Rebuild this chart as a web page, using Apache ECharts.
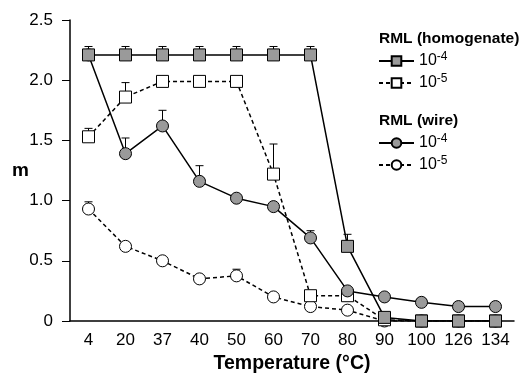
<!DOCTYPE html>
<html>
<head>
<meta charset="utf-8">
<script src="https://cdn.jsdelivr.net/npm/echarts@6/dist/echarts.min.js"></script>
<style>
  html, body { margin: 0; padding: 0; background: #fff; }
  #chart { width: 522px; height: 375px; }
</style>
</head>
<body>
<div id="chart"></div>
<script>
// temperatures (°C) on the x axis
const temps = ['4', '20', '37', '40', '50', '60', '70', '80', '90', '100', '126', '134'];

// RML (homogenate)
const homog4 = [2.21, 2.21, 2.21, 2.21, 2.21, 2.21, 2.21, 0.62, 0.03, 0, 0, 0];
const homog4Err = [2.28, 2.28, 2.28, 2.28, 2.28, 2.28, 2.28, 0.72, null, null, null, null];
const homog5 = [1.53, 1.86, 1.99, 1.99, 1.99, 1.22, 0.21, 0.21, 0.01, 0, 0, 0];
const homog5Err = [1.60, 1.98, 2.03, null, null, 1.47, null, null, null, null, null, null];

// RML (wire)
const wire4 = [2.21, 1.39, 1.62, 1.16, 1.02, 0.95, 0.69, 0.25, 0.20, 0.155, 0.12, 0.12];
const wire4Err = [null, 1.52, 1.75, 1.29, null, null, 0.75, null, null, null, null, null];
const wire5 = [0.93, 0.62, 0.50, 0.35, 0.375, 0.20, 0.12, 0.09, 0.0, 0, 0, 0];
const wire5Err = [0.99, null, null, null, 0.43, null, null, null, null, null, null, null];

const yTicks = [0, 0.5, 1.0, 1.5, 2.0, 2.5];

const FONT = 'Liberation Sans, Arial, sans-serif';
const GRAY = '#9a9a9a';

const chart = echarts.init(document.getElementById('chart'));

// upper error bar with a small cap
function errSeries(name, vals, tops) {
  const data = [];
  vals.forEach((v, i) => {
    if (tops[i] != null) data.push([i, v, tops[i]]);
  });
  return {
    name: name + '-err',
    type: 'custom',
    z: 1,
    silent: true,
    data: data,
    renderItem: function (params, api) {
      const p = api.coord([api.value(0), api.value(1)]);
      const t = api.coord([api.value(0), api.value(2)]);
      const st = { stroke: '#000', lineWidth: 1 };
      return {
        type: 'group',
        children: [
          { type: 'line', shape: { x1: p[0], y1: p[1], x2: t[0], y2: t[1] }, style: st },
          { type: 'line', shape: { x1: t[0] - 4, y1: t[1], x2: t[0] + 4, y2: t[1] }, style: st }
        ]
      };
    }
  };
}

function lineSeries(name, vals, symbol, fill, dashed) {
  return {
    name: name,
    type: 'line',
    z: 3,
    data: vals,
    symbol: symbol,
    symbolSize: 12,
    showAllSymbol: true,
    lineStyle: { color: '#000', width: 1.5, type: dashed ? [4, 3] : 'solid' },
    itemStyle: { color: fill, borderColor: '#000', borderWidth: 1, opacity: 1 },
    emphasis: { disabled: true }
  };
}

const legendText = {
  fontFamily: FONT,
  fontSize: 16,
  color: '#000',
  rich: {
    b: { fontFamily: FONT, fontSize: 16, color: '#000' },
    sup: { fontFamily: FONT, fontSize: 12, color: '#000', verticalAlign: 'top', padding: [0, 0, 8, 0] }
  }
};
const legendFmt = name => name.endsWith('4') ? '{b|10}{sup|-4}' : '{b|10}{sup|-5}';

function legendBox(names, top) {
  return {
    data: names,
    orient: 'vertical',
    left: 378,
    top: top,
    padding: 0,
    itemWidth: 35,
    itemHeight: 12,
    itemGap: 4,
    formatter: legendFmt,
    textStyle: legendText,
    selectedMode: false
  };
}

const option = {
  animation: false,
  backgroundColor: '#fff',
  textStyle: { fontFamily: FONT },
  grid: { left: 70, right: 8, top: 20, bottom: 54, outerBoundsMode: 'none' },
  legend: [
    legendBox(['homog4', 'homog5'], 51),
    legendBox(['wire4', 'wire5'], 133)
  ],
  graphic: [
    { type: 'text', left: 379, top: 31, style: { text: 'RML (homogenate)', font: 'bold 15.5px ' + FONT, fill: '#000' } },
    { type: 'text', left: 379, top: 113, style: { text: 'RML (wire)', font: 'bold 15.5px ' + FONT, fill: '#000' } }
  ],
  xAxis: {
    type: 'category',
    data: temps,
    boundaryGap: true,
    name: 'Temperature (°C)',
    nameLocation: 'middle',
    nameGap: 33,
    nameMoveOverlap: false,
    nameTextStyle: { fontFamily: FONT, fontSize: 19.5, fontWeight: 'bold', color: '#000' },
    axisLine: { lineStyle: { color: '#000', width: 1.5 } },
    axisTick: { alignWithLabel: true, length: 8, lineStyle: { color: '#000', width: 1 } },
    axisLabel: { fontFamily: FONT, fontSize: 17, color: '#000', margin: 11 },
    splitLine: { show: false }
  },
  yAxis: {
    type: 'value',
    min: yTicks[0],
    max: yTicks[yTicks.length - 1],
    interval: 0.5,
    name: 'm',
    nameLocation: 'middle',
    nameRotate: 0,
    nameGap: 41,
    nameMoveOverlap: false,
    nameTextStyle: { fontFamily: FONT, fontSize: 19, fontWeight: 'bold', color: '#000' },
    axisLine: { show: true, lineStyle: { color: '#000', width: 1.5 } },
    axisTick: { show: true, length: 8, lineStyle: { color: '#000', width: 1 } },
    axisLabel: {
      fontFamily: FONT, fontSize: 17, color: '#000', margin: 17,
      formatter: v => (v === 0 ? '0' : v.toFixed(1))
    },
    splitLine: { show: false }
  },
  series: [
    errSeries('wire5', wire5, wire5Err),
    errSeries('homog5', homog5, homog5Err),
    errSeries('wire4', wire4, wire4Err),
    errSeries('homog4', homog4, homog4Err),
    lineSeries('wire5', wire5, 'circle', '#fff', true),
    lineSeries('homog5', homog5, 'rect', '#fff', true),
    lineSeries('wire4', wire4, 'circle', GRAY, false),
    lineSeries('homog4', homog4, 'rect', GRAY, false)
  ]
};

chart.setOption(option);
</script>
</body>
</html>
